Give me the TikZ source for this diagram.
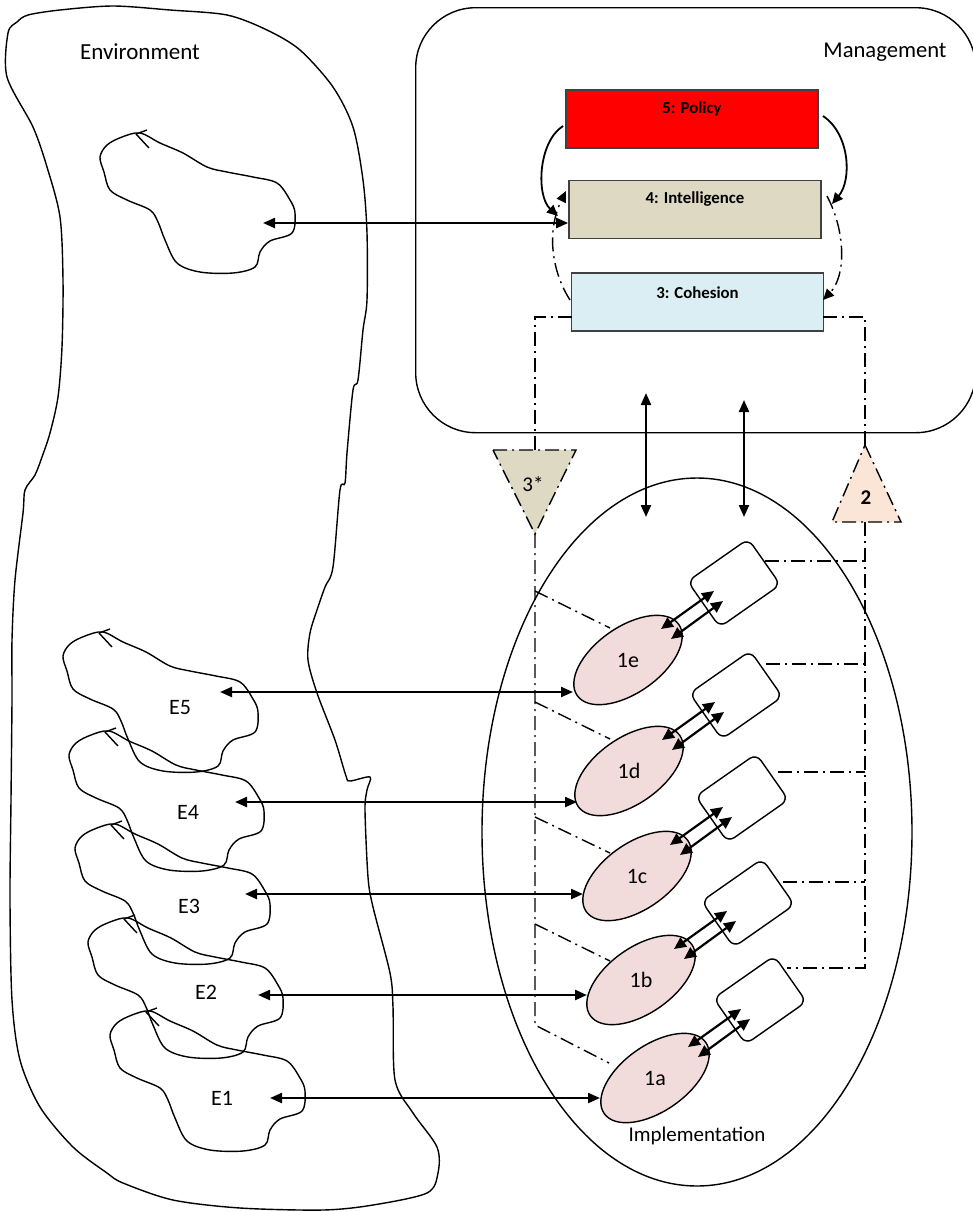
\documentclass[tikz,border=0pt]{standalone}
\usepackage{fontspec}
\setmainfont{Carlito}
\usetikzlibrary{arrows.meta,shapes.geometric,calc}
\definecolor{intel}{HTML}{DDD9C3}
\definecolor{cohes}{HTML}{DBEEF4}
\definecolor{pinkfill}{HTML}{F2DCDB}
\definecolor{peach}{HTML}{FBE5D6}
\definecolor{polred}{HTML}{FF0000}
\begin{document}
\begin{tikzpicture}[x=0.5pt,y=-0.5pt,
  outline/.style={line width=0.7pt, black},
  ddot/.style={line width=0.7pt, dash pattern=on 7pt off 2.5pt on 1pt off 2.5pt},
  conn/.style={line width=1.1pt, {Triangle[length=6pt,width=5pt]}-{Triangle[length=6pt,width=5pt]}},
  sconn/.style={line width=1.1pt, {Triangle[length=6pt,width=5.5pt]}-{Triangle[length=6pt,width=5.5pt]}},
  tipar/.style={line width=0.9pt, -{Triangle[length=5.5pt,width=5pt]}},
  lvl/.style={draw=black!75, line width=0.8pt, minimum width=126pt, minimum height=29pt, inner sep=0pt},
  lbl/.style={font=\fontsize{11}{13}\selectfont, inner sep=0pt},
  blbl/.style={font=\fontsize{8.4}{10}\selectfont\bfseries, inner sep=0pt},
  unit/.style={ellipse, draw, line width=0.7pt, fill=pinkfill, minimum width=62pt, minimum height=33pt, rotate=35, inner sep=0pt},
  opbox/.style={draw, line width=0.7pt, rounded corners=4pt, minimum width=37pt, minimum height=28pt, rotate=35, inner sep=0pt},
  blob/.pic={
    \draw[outline] plot[smooth cycle, tension=0.55] coordinates {(140,133) (122,137) (107,145) (100,157) (104,172) (110,190) (127,200) (150,210) (158,222) (165,240) (177,263) (200,272) (233,273) (255,267) (260,252) (270,241) (292,233) (295,213) (290,200) (277,183) (253,177) (227,172) (207,167) (183,153) (160,143)};
    \draw[outline] (136,134) -- (147,130);
    \draw[outline] (136,134) -- (149,148);
  }
]
\useasboundingbox (0,0) rectangle (973,1212);

% Environment outline
\draw[outline] plot[smooth cycle, tension=0.5] coordinates {
 (28,15) (60,10) (113,6) (170,10) (227,15) (267,30) (300,50) (333,87) (353,127) (363,180) (367,233) (367,300) (363,330) (358,380) (353,390) (347,453) (345,483) (340,490) (333,567) (325,587) (317,610) (310,633) (308,660) (317,693) (335,740) (346,776) (350,781) (370,777) (367,790) (365,810) (368,877) (373,907) (390,973) (393,1007) (395,1080) (413,1113) (437,1147) (438,1173) (427,1193) (373,1205) (323,1210) (240,1208) (173,1200) (123,1183) (107,1173) (73,1147) (40,1107) (20,1060) (12,1000) (10,900) (11,800) (12,700) (12,640) (15,580) (23,513) (25,490) (35,475) (42,457) (50,433) (58,397) (62,347) (63,280) (60,217) (47,167) (33,127) (7,77) (8,33) (17,22)};
\node[lbl, font=\fontsize{11.5}{13}\selectfont] (envlbl) at (140,52) {Environment};

% blobs
\pic at (0,0) {blob};
\pic at (-37,499) {blob};
\pic at (-31,598) {blob};
\pic at (-25,691) {blob};
\pic at (-12,785) {blob};
\pic at (10,878) {blob};
\node[lbl] (lE5) at (180,708) {E5};
\node[lbl] (lE4) at (188,812) {E4};
\node[lbl] (lE3) at (189,906) {E3};
\node[lbl] (lE2) at (206,992) {E2};
\node[lbl] (lE1) at (222,1098) {E1};

% Management
\node[draw, line width=0.7pt, rounded corners=30pt, minimum width=280pt, minimum height=212.5pt, anchor=north west, inner sep=0pt] (mgmt) at (415,7) {};
\node[lbl, font=\fontsize{11.3}{13}\selectfont] (mgmtlbl) at (885,52) {Management};

\node[lvl, fill=polred] (pol) at (692,119) {};
\node[blbl] at ([shift={(0,-10)}]pol.center) {5: Policy};
\node[lvl, fill=intel] (int) at (695,209.5) {};
\node[blbl] at ([shift={(0,-10)}]int.center) {4: Intelligence};
\node[lvl, fill=cohes] (coh) at (697.5,302) {};
\node[blbl] at ([shift={(0,-9)}]coh.center) {3: Cohesion};

% curved arrows among 5,4,3
\coordinate (pl) at (563,126);
\coordinate (il) at (558,216);
\draw[tipar] (pl) .. controls (538,142) and (536,196) .. (il);
\coordinate (pr) at (823,116);
\coordinate (ir) at (832,204);
\draw[tipar] (pr) .. controls (850,134) and (852,180) .. (ir);
\coordinate (cl) at (570,300);
\coordinate (il2) at (566,191);
\draw[ddot, -{Triangle[length=5.5pt,width=5pt]}] (cl) .. controls (552,272) and (546,232) .. (il2);
\coordinate (ir2) at (827,196);
\coordinate (cr) at (823,300);
\draw[ddot, -{Triangle[length=5.5pt,width=5pt]}] (ir2) .. controls (846,232) and (846,276) .. (cr);

% environment blob to intelligence
\coordinate (envtip) at (263,223);
\draw[conn] (envtip) -- (envtip -| int.west);

% Implementation ellipse
\node[draw, ellipse, line width=0.7pt, minimum width=215pt, minimum height=354pt, inner sep=0pt] (impl) at (697,832) {};
\node[lbl, font=\fontsize{10.5}{12}\selectfont] (impllbl) at (697,1136) {Implementation};

% vertical arrows
\coordinate (va1) at (646,393); \coordinate (vb1) at (646,517);
\coordinate (va2) at (744,400); \coordinate (vb2) at (744,517);
\draw[conn] (va1) -- (vb1);
\draw[conn] (va2) -- (vb2);

% dash-dot network left (3*)
\draw[ddot] (572,317) -- (535,317) -- (535,450);
\draw[ddot, fill=intel] (493,450) -- (576,450) -- (535,534) -- cycle;
\node[lbl, font=\fontsize{10.5}{12}\selectfont] (t3) at (533,484) {3*};
\draw[ddot] (535,534) -- (535,1025) -- (609,1063);
\draw[ddot] (535,591) -- (610,628);
\draw[ddot] (535,702) -- (610,739);
\draw[ddot] (535,817) -- (610,853);
\draw[ddot] (535,924) -- (610,961);

% dash-dot network right (2)
\draw[ddot] (823,317) -- (865,317) -- (865,445);
\draw[ddot, fill=peach] (865,445) -- (901,522) -- (832,522) -- cycle;
\node[lbl, font=\fontsize{10.5}{12}\selectfont\bfseries] (t2) at (866,498) {2};
\draw[ddot] (865,522) -- (865,968) -- (787,968);
\draw[ddot] (765,561) -- (865,561);
\draw[ddot] (766,664) -- (865,664);
\draw[ddot] (778,772) -- (865,772);
\draw[ddot] (783,882) -- (865,882);

% operational units
\foreach \n/\ex/\ey/\bx/\by in {e/628/660/734/583, d/629/771/736/695, c/637/876/742/798, b/641/980/748/903, a/655/1078/760/1000} {
  \node[unit] (u\n) at (\ex,\ey) {};
  \node[lbl] at (u\n.center) {1\n};
  \node[opbox] (o\n) at (\bx,\by) {};
  \draw[sconn] ([shift={(33,-31)}]u\n.center) -- ([shift={(86,-69)}]u\n.center);
  \draw[sconn] ([shift={(43,-21)}]u\n.center) -- ([shift={(95,-59)}]u\n.center);
}

% E arrows
\coordinate (a5l) at (220,692); \coordinate (a5r) at (573,692);
\coordinate (a4l) at (235,802); \coordinate (a4r) at (577,802);
\coordinate (a3l) at (245,894); \coordinate (a3r) at (583,894);
\coordinate (a2l) at (258,995); \coordinate (a2r) at (587,995);
\coordinate (a1l) at (270,1098); \coordinate (a1r) at (600,1098);
\draw[conn] (a5l) -- (a5r);
\draw[conn] (a4l) -- (a4r);
\draw[conn] (a3l) -- (a3r);
\draw[conn] (a2l) -- (a2r);
\draw[conn] (a1l) -- (a1r);
\end{tikzpicture}
\end{document}
